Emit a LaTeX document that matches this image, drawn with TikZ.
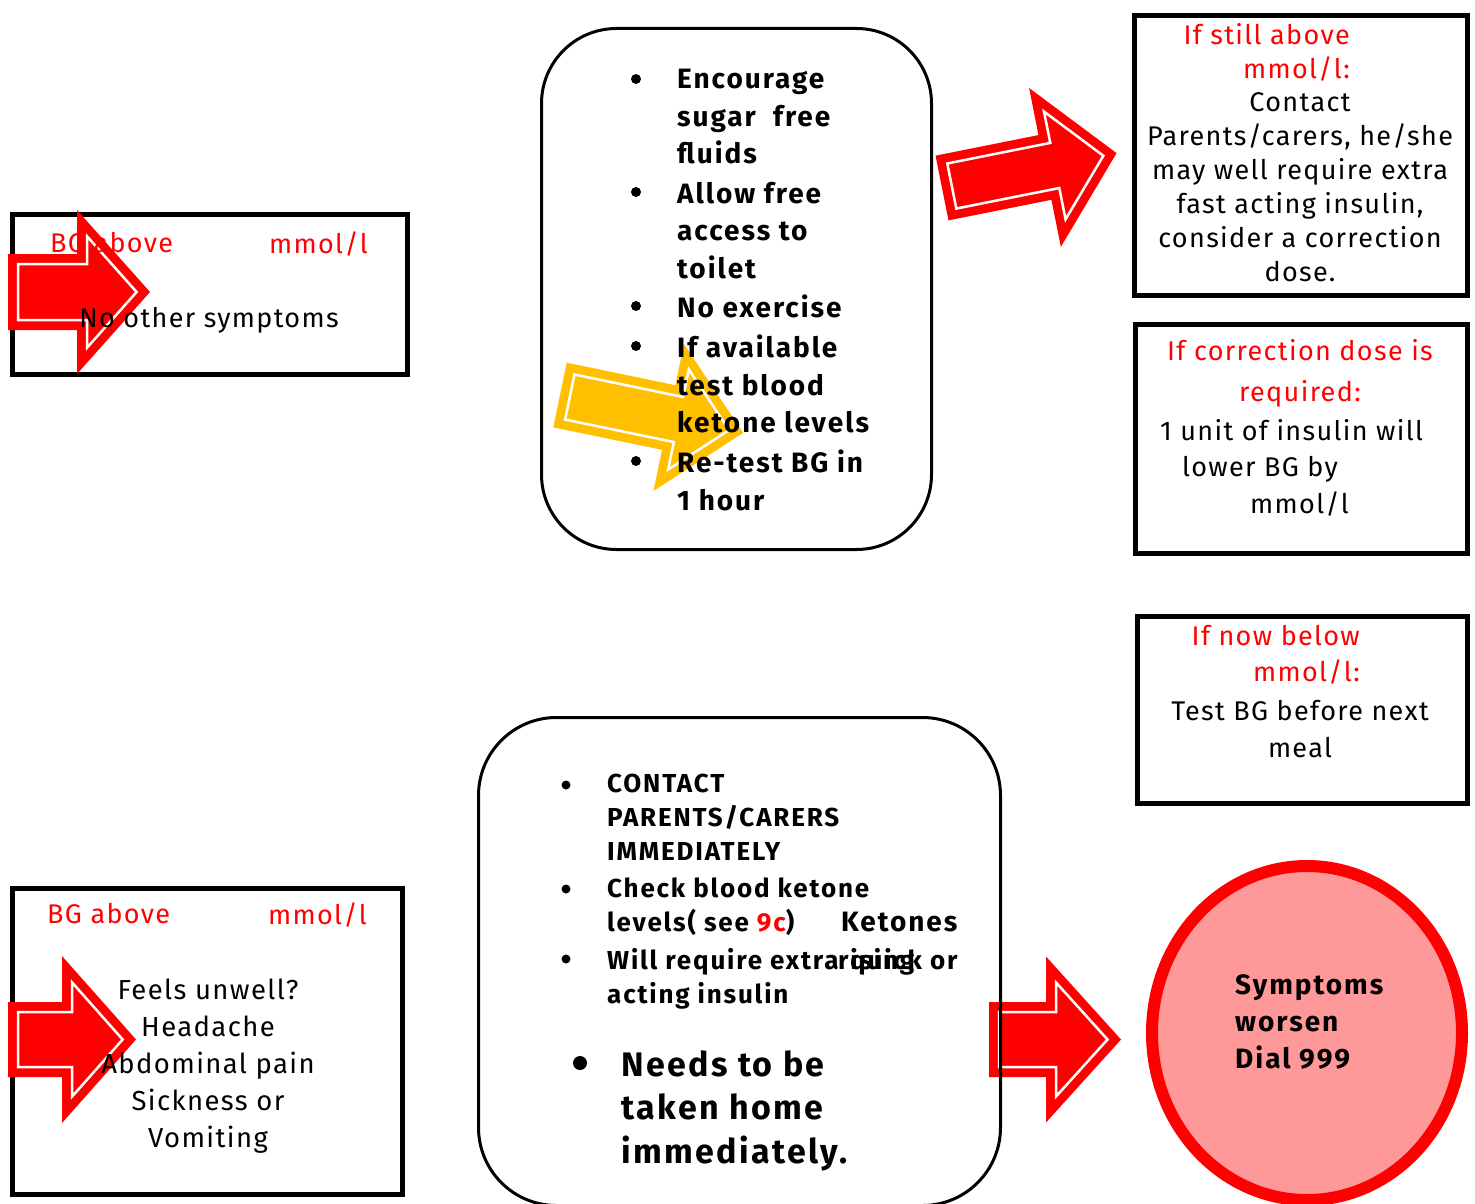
\documentclass[tikz,border=0pt]{standalone}
\usepackage{fontspec}
\setmainfont{Fira Sans}[LetterSpace=5, BoldFeatures={LetterSpace=7}]
\usetikzlibrary{shapes.geometric}

\definecolor{arrowred}{RGB}{255,0,0}
\definecolor{arrowgold}{RGB}{255,192,0}
\definecolor{alertpink}{RGB}{255,153,153}

% block arrow: colour, length, head length, shaft half width, head half width
\newcommand{\blockarrow}[5]{%
  \pgfmathsetmacro\ahb{#2-#3}
  \pgfmathsetmacro\aang{atan(#5/#3)}
  \pgfmathsetmacro\atip{#2-10/sin(\aang)}
  \pgfmathsetmacro\ahy{#5-10*#5/#3-10/cos(\aang)}
  \fill[#1] (0,-#4) -- (\ahb,-#4) -- (\ahb,-#5) -- (#2,0) -- (\ahb,#5) -- (\ahb,#4) -- (0,#4) -- cycle;
  \draw[white, line width=2.5pt] (10,-#4+10) -- (\ahb+10,-#4+10) -- (\ahb+10,-\ahy) -- (\atip,0)
    -- (\ahb+10,\ahy) -- (\ahb+10,#4-10) -- (10,#4-10) -- cycle;
}

\begin{document}
\begin{tikzpicture}[x=1pt, y=-1pt,
  every node/.style={inner sep=0pt},
  plainbox/.style={draw=black, line width=5pt},
  roundbox/.style={draw=black, line width=3pt, rounded corners=78pt},
  txt/.style={font=\fontsize{27}{34}\selectfont},
  redtxt/.style={font=\fontsize{27}{34}\selectfont, text=red},
  boldtxt/.style={font=\fontsize{28}{37.5}\selectfont\bfseries},
  smallbold/.style={font=\fontsize{26}{34}\selectfont\bfseries},
  bigbold/.style={font=\fontsize{34}{43.5}\selectfont\bfseries},
  dot/.style={circle, fill=black, minimum size=10pt}
]
\useasboundingbox (0,0) rectangle (1475,1204);
\fill[white] (0,0) rectangle (1475,1204);

% Boxes
\node[plainbox, minimum width=395, minimum height=160] (calm) at (210,294.5) {};
\node[plainbox, minimum width=390, minimum height=306] (unwell) at (207.5,1041.5) {};
\node[plainbox, minimum width=333, minimum height=280] (stillabove) at (1301,155.5) {};
\node[plainbox, minimum width=332, minimum height=229] (correction) at (1301.5,439) {};
\node[plainbox, minimum width=330, minimum height=187] (nowbelow) at (1302.5,710) {};
\node[roundbox, minimum width=390, minimum height=521, rounded corners=75pt] (firstcare) at (736.5,289) {};
\node[ellipse, draw=arrowred, fill=alertpink, line width=12pt,
      minimum width=310, minimum height=334] (dial) at (1307,1033) {};

% Arrows
\begin{scope}[shift={(8,292)}]
  \blockarrow{arrowred}{142}{73}{38}{82}
\end{scope}
\begin{scope}[shift={(8,1039.5)}]
  \blockarrow{arrowred}{128}{74}{37.5}{83.5}
\end{scope}
\begin{scope}[shift={(942,188)}, rotate=11.3]
  \blockarrow{arrowred}{178}{73}{33}{81}
\end{scope}
\begin{scope}[shift={(560,395)}, rotate=-11.7]
  \blockarrow{arrowgold}{187}{76}{33}{75}
\end{scope}
\begin{scope}[shift={(989,1039.5)}]
  \blockarrow{arrowred}{132}{75}{37.5}{83}
\end{scope}

% Bottom box over its arrow
\node[roundbox, minimum width=522, minimum height=488] (urgent) at (739.5,961.5) {};

% Left boxes text
\node[redtxt, anchor=north west] (bgone) at (50,232) {BG above};
\node[redtxt, anchor=north east] (mmolone) at (368,232) {mmol/l};
\node[txt, anchor=north] (nosymp) at (209,307) {No other symptoms};

\node[redtxt, anchor=north west] (bgtwo) at (47,903) {BG above};
\node[redtxt, anchor=north east] (mmoltwo) at (367,903) {mmol/l};
\node[font=\fontsize{27.5}{37}\selectfont, anchor=north, align=center] (signs) at (208,979)
  {Feels unwell?\\Headache\\Abdominal pain\\Sickness or\\Vomiting};

% First care list
\foreach \y [count=\i] in {79,192,306,346,461}
  \node[dot] (dotA\i) at (636,\y) {};
\node[boldtxt, anchor=north west, align=left] (fluids) at (677,69) {Encourage\\sugar\ \ free\\fluids};
\node[boldtxt, anchor=north west, align=left] (toilet) at (677,182) {Allow free\\access to\\toilet};
\node[boldtxt, anchor=north west, align=left] (noex) at (677,295) {No exercise};
\node[boldtxt, anchor=north west, align=left] (ketonetest) at (677,335) {If available\\test blood\\ketone levels};
\node[boldtxt, anchor=north west, align=left] (retest) at (677,450) {Re-test BG in\\1 hour};

% Right boxes text
\node[redtxt, anchor=north east, align=right] (stillhead) at (1350,23) {If still above\\mmol/l:};
\node[txt, anchor=north, align=center] (stillbody) at (1300,92)
  {Contact\\Parents/carers, he/she\\may well require extra\\fast acting insulin,\\consider a correction\\dose.};

\node[redtxt, anchor=north, align=center] (corrhead) at (1300,339) {If correction dose is\\[7pt]required:};
\node[font=\fontsize{27}{36.5}\selectfont, anchor=north west, align=left] (unit) at (1160,419)
  {1 unit of insulin will\\\hspace*{22pt}lower BG by\\\hspace*{90pt}mmol/l};

\node[font=\fontsize{27}{36}\selectfont, text=red, anchor=north east, align=right] (belowhead) at (1360,625)
  {If now below\\mmol/l:};
\node[font=\fontsize{27}{37}\selectfont, anchor=north, align=center] (nextmeal) at (1300,700)
  {Test BG before next\\meal};

% Urgent list
\foreach \y [count=\i] in {785,889,959}
  \node[dot, minimum size=9pt] (dotB\i) at (566,\y) {};
\node[smallbold, anchor=north west, align=left] (contact) at (607,774) {CONTACT\\PARENTS/CARERS\\IMMEDIATELY};
\node[smallbold, anchor=north west, align=left] (ketone) at (607,878)
  {\addfontfeatures{LetterSpace=11}Check blood ketone\\\addfontfeatures{LetterSpace=11}levels( see \textcolor{red}{9c})};
\node[font=\fontsize{28}{34}\selectfont\bfseries, anchor=north west] (ketones) at (841,912) {Ketones};
\node[smallbold, anchor=north west] (extra) at (607,948) {\addfontfeatures{LetterSpace=11}Will require extra};
\node[smallbold, anchor=north west] (acting) at (607,982) {acting insulin};
\node[smallbold, anchor=north west] (rising) at (838,948) {\addfontfeatures{LetterSpace=0}rising};
\node[smallbold, anchor=north west] (quick) at (850,948) {\addfontfeatures{LetterSpace=0}quick or};
\node[dot, minimum size=14pt] (dotC) at (580,1063) {};
\node[bigbold, anchor=north west, align=left] (home) at (621,1050) {Needs to be\\taken home\\immediately.};

% Emergency
\node[font=\fontsize{28}{37}\selectfont\bfseries, anchor=north west, align=left] (worse) at (1235,974)
  {Symptoms\\worsen\\Dial 999};

\end{tikzpicture}
\end{document}
